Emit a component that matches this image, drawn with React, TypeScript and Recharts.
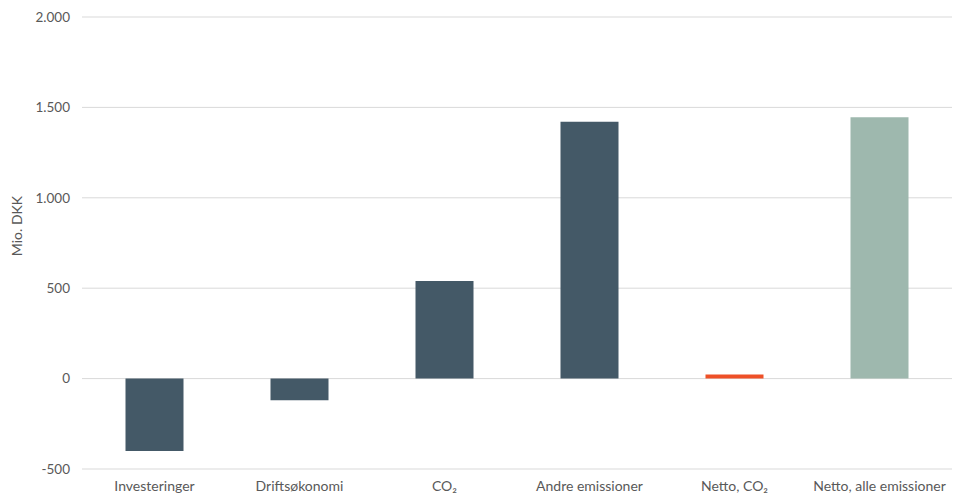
import { BarChart, Bar, XAxis, YAxis, CartesianGrid, Cell, Label } from "recharts";

const categories = [
  "Investeringer",
  "Driftsøkonomi",
  "CO₂",
  "Andre emissioner",
  "Netto, CO₂",
  "Netto, alle emissioner",
];
const values = [-400, -120, 540, 1420, 22, 1445];
const yTicks = [-500, 0, 500, 1000, 1500, 2000];

const barColors = ["#445967", "#445967", "#445967", "#445967", "#EE5027", "#9EB8AE"];

const chartData = categories.map((name, i) => ({ name, value: values[i] }));

const fmt = (v: number) => v.toLocaleString("da-DK");

const font = "Lato, 'Open Sans', sans-serif";

export default function App() {
  return (
    <div style={{ position: "absolute", left: 0, top: 0, fontFamily: font }}>
      <BarChart
        width={957}
        height={498}
        data={chartData}
        margin={{ top: 17, right: 5, bottom: 0, left: 0 }}
        barCategoryGap="30%"
      >
        <CartesianGrid vertical={false} stroke="#D9D9D9" />
        <XAxis
          dataKey="name"
          axisLine={false}
          tickLine={false}
          tickSize={0}
          tickMargin={12}
          height={29}
          interval={0}
          tick={{ fill: "#595959", fontSize: 14, fontFamily: font }}
        />
        <YAxis
          domain={[-500, 2000]}
          ticks={yTicks}
          width={82}
          axisLine={false}
          tickLine={false}
          tickSize={0}
          tickMargin={12}
          tickFormatter={fmt}
          tick={{ fill: "#595959", fontSize: 13.5, fontFamily: font }}
        >
          <Label
            content={() => (
              <text
                x={18}
                y={226}
                transform="rotate(-90 18 226)"
                textAnchor="middle"
                dominantBaseline="middle"
                fill="#595959"
                fontSize={14}
                fontFamily={font}
              >
                Mio. DKK
              </text>
            )}
          />
        </YAxis>
        <Bar dataKey="value" isAnimationActive={false}>
          {chartData.map((d, i) => (
            <Cell key={d.name} fill={barColors[i]} />
          ))}
        </Bar>
      </BarChart>
    </div>
  );
}
